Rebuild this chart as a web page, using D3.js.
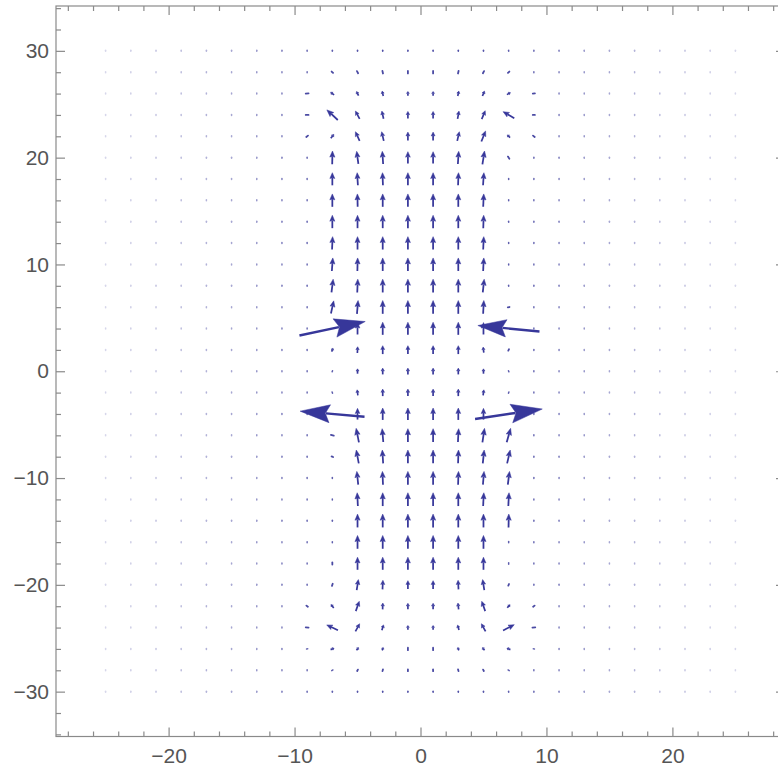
<!DOCTYPE html>
<html>
<head>
<meta charset="utf-8">
<script src="https://cdn.jsdelivr.net/npm/d3@7"></script>
<style>
  body { margin: 0; background: #fff; }
  .tick text { font-family: "Liberation Sans", Arial, sans-serif; font-size: 21px; fill: #555; }
  .tick line { stroke: #8a8a8a; }
</style>
</head>
<body>
<div id="container"></div>
<script>
var w = 778,
  h = 769;

// sample grid of the vector plot
var colsX = [-25, -23, -21, -19, -17, -15, -13, -11, -9, -7, -5, -3, -1, 1, 3, 5, 7, 9, 11, 13, 15, 17, 19, 21, 23, 25];
var rowsY = [30, 28, 26, 24, 22, 20, 18, 16, 14, 12, 10, 8, 6, 4, 2, 0, -2, -4, -6, -8, -10, -12, -14, -16, -18, -20, -22, -24, -26, -28, -30];

// how dark the near-zero marks look, per column
var dotShade = [0.2, 0.24, 0.28, 0.33, 0.38, 0.44, 0.52, 0.62, 0.72, 0.8, 0.85, 0.88, 0.9,
  0.9, 0.88, 0.85, 0.8, 0.72, 0.62, 0.52, 0.44, 0.38, 0.33, 0.28, 0.24, 0.2];

// vectors (x -9..9, y 28..-28), u to the right, v up
var innerX = [-9, -7, -5, -3, -1, 1, 3, 5, 7, 9];
var innerY = [28, 26, 24, 22, 20, 18, 16, 14, 12, 10, 8, 6, 4, 2, 0, -2, -4, -6, -8, -10, -12, -14, -16, -18, -20, -22, -24, -26, -28];
var innerU = [
  [0, -0.1, -0.08, -0.04, 0, 0, 0.04, 0.08, 0.1, 0],
  [0.2, -0.25, -0.15, -0.08, 0, 0, 0.08, 0.15, 0.25, 0.15],
  [0.2, -0.78, -0.3, -0.12, 0, 0, 0.1, 0.25, -0.8, 0.15],
  [0.12, 0.22, -0.3, -0.15, 0, 0, 0.15, 0.3, -0.2, -0.12],
  [0, 0.02, -0.12, -0.06, 0, 0, 0.06, 0.15, -0.1, 0],
  [0, 0, -0.05, -0.03, 0, 0, 0.03, 0.06, 0, 0],
  [0, 0, -0.02, 0, 0, 0, 0, 0.04, 0, 0],
  [0, 0, 0, 0, 0, 0, 0, 0.03, 0, 0],
  [0, 0.04, 0, 0, 0, 0, 0, 0.04, 0, 0],
  [0, 0.07, 0.02, 0, 0, 0, 0, 0.05, 0, 0],
  [0, 0.12, 0.04, 0, 0, 0, 0, 0.1, 0, 0],
  [0, 0.2, 0.08, 0, 0, 0, 0, 0.05, 0.12, 0],
  [0, 4.7, 0, 0, 0, 0, 0, 0, -4.4, 0],
  [0, 0.1, 0.02, 0, 0, 0, 0, -0.05, 0.05, 0],
  [0, 0.03, 0, 0, 0, 0, 0, 0, -0.03, 0],
  [0, -0.03, -0.05, 0, 0, 0, 0, 0.05, 0.03, 0],
  [0, -4.6, 0, 0, 0, 0, 0, 0, 4.8, 0],
  [0, -0.2, -0.2, -0.08, 0, 0, 0.05, 0.15, 0.28, 0],
  [0, -0.1, -0.18, -0.06, 0, 0, 0.03, 0.1, 0.22, 0],
  [0, 0, -0.1, -0.04, 0, 0, 0.03, 0.08, 0.12, 0],
  [0, 0, -0.05, 0, 0, 0, 0, 0.05, 0.05, 0],
  [0, 0, 0, 0, 0, 0, 0, 0, 0.02, 0],
  [0, 0, 0, 0, 0, 0, 0, 0, 0, 0],
  [0, 0, 0, 0, 0, 0, 0, 0, 0, 0],
  [0, 0.05, 0.12, 0.03, 0, 0, -0.03, -0.12, 0.05, 0],
  [-0.1, -0.2, 0.25, 0.02, 0, 0, -0.05, -0.25, 0.2, 0.1],
  [-0.2, -0.8, 0.3, 0.12, 0, 0, -0.1, -0.3, 0.8, 0.2],
  [0.08, 0.25, 0.15, 0.08, 0, 0, -0.08, -0.15, -0.25, -0.08],
  [0, 0.08, 0.05, 0.03, 0, 0, -0.03, -0.05, -0.08, 0]
];
var innerV = [
  [0, 0.1, 0.15, 0.18, 0.18, 0.18, 0.18, 0.15, 0.1, 0],
  [0.02, 0.2, 0.3, 0.35, 0.3, 0.3, 0.35, 0.35, 0.15, 0.02],
  [0, 0.72, 0.55, 0.55, 0.5, 0.5, 0.55, 0.6, 0.47, 0],
  [0.1, 0.28, 0.65, 0.65, 0.6, 0.6, 0.65, 0.75, 0.2, 0.1],
  [0, 0.95, 0.9, 0.9, 0.85, 0.85, 0.9, 0.95, 0.15, 0],
  [0, 0.9, 0.9, 0.9, 0.9, 0.9, 0.9, 0.9, 0, 0],
  [0, 0.92, 0.92, 0.92, 0.92, 0.92, 0.92, 0.92, 0, 0],
  [0, 0.92, 0.92, 0.92, 0.92, 0.92, 0.92, 0.92, 0, 0],
  [0, 0.92, 0.92, 0.92, 0.92, 0.92, 0.92, 0.92, 0, 0],
  [0, 0.93, 0.93, 0.93, 0.93, 0.93, 0.93, 0.93, 0, 0],
  [0, 0.95, 0.95, 0.95, 0.95, 0.95, 0.95, 0.95, 0, 0],
  [0, 0.9, 0.95, 0.95, 0.95, 0.95, 0.95, 0.95, 0.02, 0],
  [0, 1.0, 0.85, 0.9, 0.9, 0.9, 0.9, 0.85, 0.43, 0],
  [0, 0.25, 0.45, 0.6, 0.6, 0.6, 0.6, 0.4, 0.1, 0],
  [0, 0.08, 0.35, 0.45, 0.45, 0.45, 0.45, 0.35, 0.08, 0],
  [0, 0.08, 0.4, 0.5, 0.5, 0.5, 0.5, 0.4, 0.08, 0],
  [0, 0.4, 0.8, 0.85, 0.85, 0.85, 0.85, 0.8, 0.71, 0],
  [0, 0.05, 1.0, 0.95, 0.95, 0.95, 0.95, 1.0, 1.0, 0],
  [0, 0.05, 0.95, 0.95, 0.95, 0.95, 0.95, 0.95, 0.95, 0],
  [0, 0, 0.95, 0.95, 0.95, 0.95, 0.95, 0.95, 0.95, 0],
  [0, 0, 0.95, 0.95, 0.95, 0.95, 0.95, 0.95, 0.95, 0],
  [0, 0, 0.95, 0.95, 0.95, 0.95, 0.95, 0.95, 0.95, 0],
  [0, 0, 0.95, 0.95, 0.95, 0.95, 0.95, 0.95, 0.08, 0],
  [0, 0.15, 0.9, 0.9, 0.9, 0.9, 0.9, 0.9, 0.1, 0],
  [0, 0.15, 0.75, 0.65, 0.6, 0.6, 0.65, 0.75, 0.12, 0],
  [0.08, 0.25, 0.7, 0.45, 0.42, 0.42, 0.45, 0.7, 0.22, 0.08],
  [0.02, 0.38, 0.55, 0.38, 0.3, 0.3, 0.35, 0.55, 0.42, 0.02],
  [0.02, 0.1, 0.2, 0.2, 0.18, 0.18, 0.2, 0.2, 0.1, 0.02],
  [0, 0.05, 0.1, 0.12, 0.12, 0.12, 0.12, 0.1, 0.05, 0]
];

var xTicks = [-20, -10, 0, 10, 20];
var yTicks = [-30, -20, -10, 0, 10, 20, 30];
var xMinor = [-28, -26, -24, -22, -18, -16, -14, -12, -8, -6, -4, -2, 2, 4, 6, 8, 12, 14, 16, 18, 22, 24, 26, 28];
var yMinor = [-34, -32, -28, -26, -24, -22, -18, -16, -14, -12, -8, -6, -4, -2, 2, 4, 6, 8, 12, 14, 16, 18, 22, 24, 26, 28, 32, 34];

var arrowColor = "#37379a";
var frameColor = "#8a8a8a";

var plotLeft = 56, plotRight = 785, plotTop = 6, plotBottom = 736.5;

var svg = d3.select("#container").append("svg")
  .attr("width", w)
  .attr("height", h);

var x = d3.scaleLinear().domain([-28.94, 28.94]).range([plotLeft, plotRight]);
var y = d3.scaleLinear().domain([-34.2, 34.2]).range([plotBottom, plotTop]);
// arrow length in pixels per unit of field strength
var len = d3.scaleLinear().domain([0, 1]).range([0, 14]);

// frame
svg.append("rect")
  .attr("x", plotLeft).attr("y", plotTop)
  .attr("width", plotRight - plotLeft).attr("height", plotBottom - plotTop)
  .attr("fill", "none")
  .attr("stroke", frameColor)
  .attr("stroke-width", 1.2);

function addAxis(axis, tx, ty) {
  var g = svg.append("g")
    .attr("transform", "translate(" + tx + "," + ty + ")")
    .call(axis);
  g.select(".domain").remove();
  g.selectAll(".tick line").attr("stroke", frameColor).attr("stroke-width", 1.2);
  return g;
}

var fmt = function (d) { return d < 0 ? "\u2212" + Math.abs(d) : "" + d; };

addAxis(d3.axisBottom(x).tickValues(xTicks).tickSize(-9).tickPadding(11.6).tickFormat(fmt), 0, plotBottom);
addAxis(d3.axisBottom(x).tickValues(xMinor).tickSize(-5).tickFormat(""), 0, plotBottom);
addAxis(d3.axisTop(x).tickValues(xTicks).tickSize(-9).tickFormat(""), 0, plotTop);
addAxis(d3.axisTop(x).tickValues(xMinor).tickSize(-5).tickFormat(""), 0, plotTop);
addAxis(d3.axisLeft(y).tickValues(yTicks).tickSize(-9).tickPadding(7).tickFormat(fmt), plotLeft, 0);
addAxis(d3.axisLeft(y).tickValues(yMinor).tickSize(-5).tickFormat(""), plotLeft, 0);
addAxis(d3.axisRight(y).tickValues(yTicks).tickSize(-9).tickFormat(""), plotRight, 0);
addAxis(d3.axisRight(y).tickValues(yMinor).tickSize(-5).tickFormat(""), plotRight, 0);

// collect the vectors on the grid
var marks = [];
rowsY.forEach(function (yv) {
  colsX.forEach(function (xv, ci) {
    var ri = innerY.indexOf(yv), cj = innerX.indexOf(xv);
    var u = 0, v = 0;
    if (ri >= 0 && cj >= 0) {
      u = innerU[ri][cj];
      v = innerV[ri][cj];
    }
    marks.push({ x: xv, y: yv, u: u, v: v, shade: dotShade[ci] });
  });
});

marks.forEach(function (d) {
  var m = Math.hypot(d.u, d.v);
  d.L = len(m);
  d.dx = m > 0 ? d.u / m : 0;
  d.dy = m > 0 ? -d.v / m : -1;
});

var tiny = marks.filter(function (d) { return d.L < 3; });
var big = marks.filter(function (d) { return d.L >= 3; });

var field = svg.append("g").attr("class", "field");

// near-zero vectors show as small dots
field.selectAll("line.dot")
  .data(tiny)
  .enter()
  .append("line")
  .attr("class", "dot")
  .attr("x1", function (d) { var l = Math.max(d.L, 1); return x(d.x) - d.dx * l / 2; })
  .attr("y1", function (d) { var l = Math.max(d.L, 1); return y(d.y) - d.dy * l / 2; })
  .attr("x2", function (d) { var l = Math.max(d.L, 1); return x(d.x) + d.dx * l / 2; })
  .attr("y2", function (d) { var l = Math.max(d.L, 1); return y(d.y) + d.dy * l / 2; })
  .attr("stroke", arrowColor)
  .attr("stroke-width", function (d) { return d.L > 1.5 ? 1.8 : 1.5; })
  .attr("stroke-linecap", "round")
  .attr("opacity", function (d) { return d.L > 1.5 ? Math.max(d.shade, 0.9) : d.shade; });

var arrows = field.selectAll("g.arrow")
  .data(big)
  .enter()
  .append("g")
  .attr("class", "arrow");

function pt(px, py) { return px.toFixed(2) + "," + py.toFixed(2); }

arrows.append("line")
  .attr("x1", function (d) { return x(d.x) - d.dx * d.L / 2; })
  .attr("y1", function (d) { return y(d.y) - d.dy * d.L / 2; })
  .attr("x2", function (d) { var back = d.L / 2 - 0.4 * d.L; return x(d.x) + d.dx * back; })
  .attr("y2", function (d) { var back = d.L / 2 - 0.4 * d.L; return y(d.y) + d.dy * back; })
  .attr("stroke", arrowColor)
  .attr("stroke-width", function (d) { return 1.6 + 0.012 * d.L; });

arrows.append("path")
  .attr("d", function (d) {
    var cx = x(d.x), cy = y(d.y);
    var tx = cx + d.dx * d.L / 2, ty = cy + d.dy * d.L / 2;
    var hl = 0.46 * d.L, hw = (0.25 * d.L + 1.8) / 2;
    var nx = -d.dy, ny = d.dx;
    var bx = tx - d.dx * hl, by = ty - d.dy * hl;
    var kx = tx - d.dx * hl * 0.85, ky = ty - d.dy * hl * 0.85;
    return "M" + pt(tx, ty) +
      "L" + pt(bx + nx * hw, by + ny * hw) +
      "L" + pt(kx, ky) +
      "L" + pt(bx - nx * hw, by - ny * hw) + "Z";
  })
  .attr("fill", arrowColor)
  .attr("stroke", arrowColor)
  .attr("stroke-width", 0.5)
  .attr("stroke-linejoin", "round");
</script>
</body>
</html>
